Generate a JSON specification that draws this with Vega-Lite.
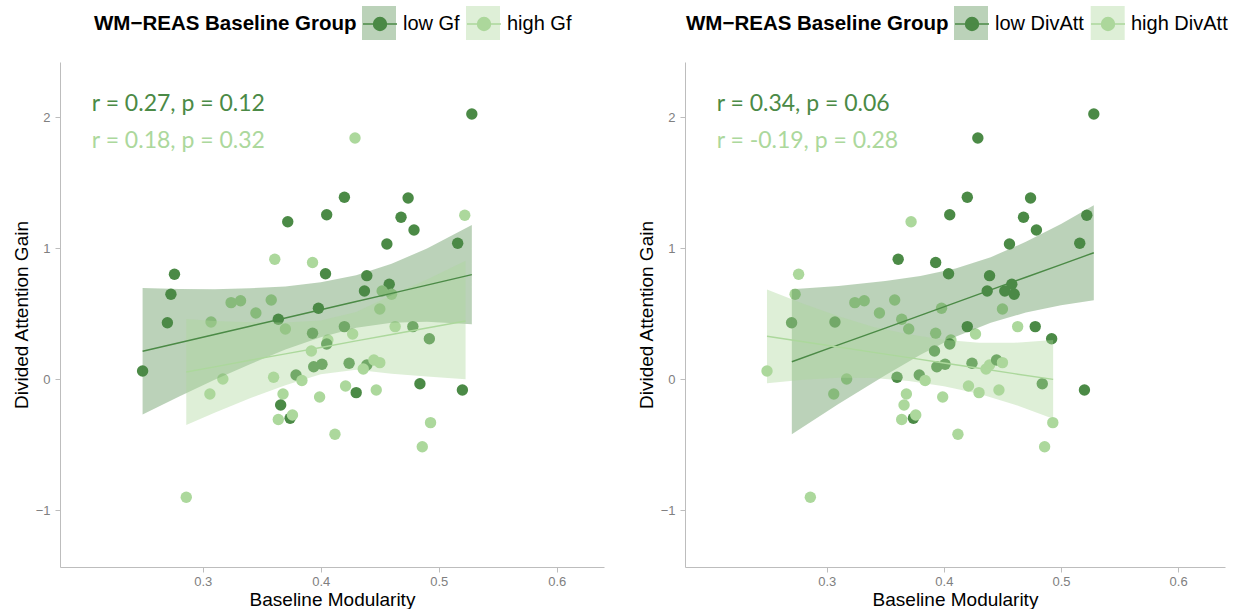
{
  "$schema": "https://vega.github.io/schema/vega-lite/v6.json",
  "padding": {"left": 12, "top": 6, "right": 0, "bottom": 0},
  "background": "white",
  "datasets": {
    "pts": [
      {"bm":0.528,"dag":2.025,"gf":"low Gf","divatt":"low DivAtt"},
      {"bm":0.429,"dag":1.842,"gf":"high Gf","divatt":"low DivAtt"},
      {"bm":0.420,"dag":1.389,"gf":"low Gf","divatt":"low DivAtt"},
      {"bm":0.474,"dag":1.384,"gf":"low Gf","divatt":"low DivAtt"},
      {"bm":0.405,"dag":1.256,"gf":"low Gf","divatt":"low DivAtt"},
      {"bm":0.468,"dag":1.237,"gf":"low Gf","divatt":"low DivAtt"},
      {"bm":0.522,"dag":1.252,"gf":"high Gf","divatt":"low DivAtt"},
      {"bm":0.479,"dag":1.140,"gf":"low Gf","divatt":"low DivAtt"},
      {"bm":0.456,"dag":1.033,"gf":"low Gf","divatt":"low DivAtt"},
      {"bm":0.516,"dag":1.038,"gf":"low Gf","divatt":"low DivAtt"},
      {"bm":0.372,"dag":1.203,"gf":"low Gf","divatt":"high DivAtt"},
      {"bm":0.361,"dag":0.916,"gf":"high Gf","divatt":"low DivAtt"},
      {"bm":0.393,"dag":0.892,"gf":"high Gf","divatt":"low DivAtt"},
      {"bm":0.276,"dag":0.802,"gf":"low Gf","divatt":"high DivAtt"},
      {"bm":0.273,"dag":0.649,"gf":"low Gf","divatt":"high DivAtt"},
      {"bm":0.270,"dag":0.432,"gf":"low Gf","divatt":"low DivAtt"},
      {"bm":0.404,"dag":0.806,"gf":"low Gf","divatt":"low DivAtt"},
      {"bm":0.439,"dag":0.791,"gf":"low Gf","divatt":"low DivAtt"},
      {"bm":0.437,"dag":0.674,"gf":"low Gf","divatt":"low DivAtt"},
      {"bm":0.458,"dag":0.725,"gf":"low Gf","divatt":"low DivAtt"},
      {"bm":0.452,"dag":0.674,"gf":"high Gf","divatt":"low DivAtt"},
      {"bm":0.460,"dag":0.649,"gf":"high Gf","divatt":"low DivAtt"},
      {"bm":0.324,"dag":0.585,"gf":"high Gf","divatt":"high DivAtt"},
      {"bm":0.332,"dag":0.600,"gf":"high Gf","divatt":"high DivAtt"},
      {"bm":0.358,"dag":0.605,"gf":"high Gf","divatt":"high DivAtt"},
      {"bm":0.345,"dag":0.506,"gf":"high Gf","divatt":"high DivAtt"},
      {"bm":0.307,"dag":0.437,"gf":"high Gf","divatt":"low DivAtt"},
      {"bm":0.364,"dag":0.458,"gf":"low Gf","divatt":"high DivAtt"},
      {"bm":0.370,"dag":0.384,"gf":"high Gf","divatt":"high DivAtt"},
      {"bm":0.398,"dag":0.542,"gf":"low Gf","divatt":"high DivAtt"},
      {"bm":0.450,"dag":0.537,"gf":"high Gf","divatt":"high DivAtt"},
      {"bm":0.393,"dag":0.351,"gf":"low Gf","divatt":"high DivAtt"},
      {"bm":0.420,"dag":0.402,"gf":"low Gf","divatt":"low DivAtt"},
      {"bm":0.427,"dag":0.346,"gf":"high Gf","divatt":"high DivAtt"},
      {"bm":0.463,"dag":0.402,"gf":"high Gf","divatt":"high DivAtt"},
      {"bm":0.478,"dag":0.402,"gf":"low Gf","divatt":"low DivAtt"},
      {"bm":0.492,"dag":0.309,"gf":"low Gf","divatt":"low DivAtt"},
      {"bm":0.406,"dag":0.300,"gf":"high Gf","divatt":"high DivAtt"},
      {"bm":0.405,"dag":0.269,"gf":"low Gf","divatt":"low DivAtt"},
      {"bm":0.392,"dag":0.216,"gf":"high Gf","divatt":"low DivAtt"},
      {"bm":0.394,"dag":0.096,"gf":"low Gf","divatt":"low DivAtt"},
      {"bm":0.401,"dag":0.115,"gf":"low Gf","divatt":"low DivAtt"},
      {"bm":0.424,"dag":0.122,"gf":"low Gf","divatt":"low DivAtt"},
      {"bm":0.439,"dag":0.109,"gf":"low Gf","divatt":"high DivAtt"},
      {"bm":0.436,"dag":0.079,"gf":"high Gf","divatt":"high DivAtt"},
      {"bm":0.445,"dag":0.147,"gf":"high Gf","divatt":"low DivAtt"},
      {"bm":0.450,"dag":0.127,"gf":"high Gf","divatt":"high DivAtt"},
      {"bm":0.249,"dag":0.063,"gf":"low Gf","divatt":"high DivAtt"},
      {"bm":0.317,"dag":0.002,"gf":"high Gf","divatt":"high DivAtt"},
      {"bm":0.360,"dag":0.015,"gf":"high Gf","divatt":"low DivAtt"},
      {"bm":0.379,"dag":0.033,"gf":"low Gf","divatt":"low DivAtt"},
      {"bm":0.384,"dag":-0.009,"gf":"high Gf","divatt":"high DivAtt"},
      {"bm":0.306,"dag":-0.112,"gf":"high Gf","divatt":"high DivAtt"},
      {"bm":0.368,"dag":-0.112,"gf":"high Gf","divatt":"high DivAtt"},
      {"bm":0.399,"dag":-0.135,"gf":"high Gf","divatt":"high DivAtt"},
      {"bm":0.366,"dag":-0.196,"gf":"low Gf","divatt":"high DivAtt"},
      {"bm":0.364,"dag":-0.307,"gf":"high Gf","divatt":"high DivAtt"},
      {"bm":0.374,"dag":-0.298,"gf":"low Gf","divatt":"low DivAtt"},
      {"bm":0.376,"dag":-0.273,"gf":"high Gf","divatt":"high DivAtt"},
      {"bm":0.421,"dag":-0.051,"gf":"high Gf","divatt":"high DivAtt"},
      {"bm":0.430,"dag":-0.102,"gf":"low Gf","divatt":"high DivAtt"},
      {"bm":0.447,"dag":-0.082,"gf":"high Gf","divatt":"high DivAtt"},
      {"bm":0.484,"dag":-0.034,"gf":"low Gf","divatt":"low DivAtt"},
      {"bm":0.520,"dag":-0.082,"gf":"low Gf","divatt":"low DivAtt"},
      {"bm":0.493,"dag":-0.331,"gf":"high Gf","divatt":"high DivAtt"},
      {"bm":0.412,"dag":-0.420,"gf":"high Gf","divatt":"high DivAtt"},
      {"bm":0.486,"dag":-0.515,"gf":"high Gf","divatt":"high DivAtt"},
      {"bm":0.286,"dag":-0.901,"gf":"high Gf","divatt":"high DivAtt"}
    ],
    "bands": [
      {"panel":"Gf","grp":"low Gf","bm":0.249,"lo":-0.269,"hi":0.697,"fit":0.214},
      {"panel":"Gf","grp":"low Gf","bm":0.280,"lo":-0.131,"hi":0.689,"fit":0.279},
      {"panel":"Gf","grp":"low Gf","bm":0.310,"lo":-0.003,"hi":0.687,"fit":0.342},
      {"panel":"Gf","grp":"low Gf","bm":0.340,"lo":0.115,"hi":0.695,"fit":0.405},
      {"panel":"Gf","grp":"low Gf","bm":0.370,"lo":0.228,"hi":0.708,"fit":0.468},
      {"panel":"Gf","grp":"low Gf","bm":0.400,"lo":0.321,"hi":0.741,"fit":0.531},
      {"panel":"Gf","grp":"low Gf","bm":0.430,"lo":0.394,"hi":0.794,"fit":0.594},
      {"panel":"Gf","grp":"low Gf","bm":0.460,"lo":0.431,"hi":0.881,"fit":0.656},
      {"panel":"Gf","grp":"low Gf","bm":0.490,"lo":0.439,"hi":0.999,"fit":0.719},
      {"panel":"Gf","grp":"low Gf","bm":0.528,"lo":0.421,"hi":1.177,"fit":0.799},
      {"panel":"Gf","grp":"high Gf","bm":0.286,"lo":-0.349,"hi":0.461,"fit":0.056},
      {"panel":"Gf","grp":"high Gf","bm":0.310,"lo":-0.255,"hi":0.445,"fit":0.095},
      {"panel":"Gf","grp":"high Gf","bm":0.340,"lo":-0.145,"hi":0.435,"fit":0.145},
      {"panel":"Gf","grp":"high Gf","bm":0.370,"lo":-0.046,"hi":0.434,"fit":0.194},
      {"panel":"Gf","grp":"high Gf","bm":0.400,"lo":0.038,"hi":0.448,"fit":0.243},
      {"panel":"Gf","grp":"high Gf","bm":0.430,"lo":0.073,"hi":0.513,"fit":0.293},
      {"panel":"Gf","grp":"high Gf","bm":0.460,"lo":0.042,"hi":0.642,"fit":0.342},
      {"panel":"Gf","grp":"high Gf","bm":0.490,"lo":0.021,"hi":0.761,"fit":0.391},
      {"panel":"Gf","grp":"high Gf","bm":0.5227,"lo":0.0,"hi":0.905,"fit":0.445},
      {"panel":"DivAtt","grp":"low DivAtt","bm":0.2702,"lo":-0.419,"hi":0.687,"fit":0.134},
      {"panel":"DivAtt","grp":"low DivAtt","bm":0.310,"lo":-0.188,"hi":0.712,"fit":0.262},
      {"panel":"DivAtt","grp":"low DivAtt","bm":0.350,"lo":0.031,"hi":0.751,"fit":0.391},
      {"panel":"DivAtt","grp":"low DivAtt","bm":0.380,"lo":0.188,"hi":0.788,"fit":0.488},
      {"panel":"DivAtt","grp":"low DivAtt","bm":0.410,"lo":0.325,"hi":0.845,"fit":0.585},
      {"panel":"DivAtt","grp":"low DivAtt","bm":0.440,"lo":0.432,"hi":0.932,"fit":0.682},
      {"panel":"DivAtt","grp":"low DivAtt","bm":0.470,"lo":0.509,"hi":1.049,"fit":0.779},
      {"panel":"DivAtt","grp":"low DivAtt","bm":0.500,"lo":0.565,"hi":1.185,"fit":0.875},
      {"panel":"DivAtt","grp":"low DivAtt","bm":0.528,"lo":0.603,"hi":1.329,"fit":0.966},
      {"panel":"DivAtt","grp":"high DivAtt","bm":0.249,"lo":-0.030,"hi":0.686,"fit":0.328},
      {"panel":"DivAtt","grp":"high DivAtt","bm":0.280,"lo":-0.004,"hi":0.576,"fit":0.286},
      {"panel":"DivAtt","grp":"high DivAtt","bm":0.310,"lo":0.011,"hi":0.481,"fit":0.246},
      {"panel":"DivAtt","grp":"high DivAtt","bm":0.340,"lo":0.010,"hi":0.400,"fit":0.205},
      {"panel":"DivAtt","grp":"high DivAtt","bm":0.370,"lo":-0.013,"hi":0.343,"fit":0.165},
      {"panel":"DivAtt","grp":"high DivAtt","bm":0.400,"lo":-0.054,"hi":0.302,"fit":0.124},
      {"panel":"DivAtt","grp":"high DivAtt","bm":0.430,"lo":-0.111,"hi":0.279,"fit":0.084},
      {"panel":"DivAtt","grp":"high DivAtt","bm":0.460,"lo":-0.192,"hi":0.278,"fit":0.043},
      {"panel":"DivAtt","grp":"high DivAtt","bm":0.4933,"lo":-0.301,"hi":0.299,"fit":-0.001}
    ],
    "notes": [
      {"panel":"Gf","grp":"low","label":"r = 0.27, p = 0.12"},
      {"panel":"Gf","grp":"high","label":"r = 0.18, p = 0.32"},
      {"panel":"DivAtt","grp":"low","label":"r = 0.34, p = 0.06"},
      {"panel":"DivAtt","grp":"high","label":"r = -0.19, p = 0.28"}
    ]
  },
  "hconcat": [
    {
      "width": 544,
      "height": 505,
      "layer": [
        {
          "data": {"name": "pts"},
          "mark": {"type": "circle", "size": 130, "opacity": 1},
          "encoding": {
            "x": {"field": "bm", "type": "quantitative", "scale": {"domain": [0.179, 0.64], "nice": false, "zero": false}, "axis": {"values": [0.3, 0.4, 0.5, 0.6], "format": ".1f", "title": "Baseline Modularity"}},
            "y": {"field": "dag", "type": "quantitative", "scale": {"domain": [-1.433, 2.422], "nice": false, "zero": false}, "axis": {"values": [-1, 0, 1, 2], "format": "d", "title": "Divided Attention Gain"}},
            "color": {"field": "gf", "type": "nominal", "scale": {"domain": ["low Gf", "high Gf"], "range": ["#4b8a46", "#acd89c"]},
              "legend": {"title": "WM−REAS Baseline Group", "orient": "none", "legendX": 34, "legendY": -56, "symbolType": "M-1,0H1M0.38,0A0.38,0.38,0,1,1,-0.38,0A0.38,0.38,0,1,1,0.38,0Z", "symbolOpacity": 1, "symbolStrokeWidth": 1.5}}
          }
        },
        {
          "data": {"name": "bands"},
          "transform": [{"filter": "datum.panel === 'Gf'"}],
          "mark": {"type": "area", "opacity": 1},
          "encoding": {
            "x": {"field": "bm", "type": "quantitative"},
            "y": {"field": "lo", "type": "quantitative"},
            "y2": {"field": "hi"},
            "fill": {"field": "grp", "type": "nominal", "scale": {"domain": ["high Gf", "low Gf"], "range": ["rgba(172,216,156,0.4)", "rgba(75,138,70,0.38)"]},
              "legend": {"title": null, "values": ["low Gf", "high Gf"], "labelExpr": "''", "orient": "none", "legendX": 302, "legendY": -56, "columnPadding": 65, "symbolType": "square", "symbolOpacity": 1, "symbolStrokeWidth": 0, "symbolStrokeColor": "transparent"}}
          }
        },
        {
          "data": {"name": "bands"},
          "transform": [{"filter": "datum.panel === 'Gf'"}],
          "mark": {"type": "line", "strokeWidth": 1.4},
          "encoding": {
            "x": {"field": "bm", "type": "quantitative"},
            "y": {"field": "fit", "type": "quantitative"},
            "stroke": {"field": "grp", "type": "nominal", "scale": {"domain": ["low Gf", "high Gf"], "range": ["#4b8a46", "#acd89c"]},
              "legend": {"title": "WM−REAS Baseline Group", "orient": "none", "legendX": 34, "legendY": -56, "symbolType": "M-1,0H1M0.38,0A0.38,0.38,0,1,1,-0.38,0A0.38,0.38,0,1,1,0.38,0Z", "symbolOpacity": 1, "symbolStrokeWidth": 1.5}}
          }
        },
        {
          "data": {"name": "notes"},
          "transform": [{"filter": "datum.panel === 'Gf' && datum.grp === 'low'"}],
          "mark": {"type": "text", "align": "left", "baseline": "middle", "font": "Lato", "fontSize": 23, "color": "#4b8a46"},
          "encoding": {"x": {"datum": 0.206, "type": "quantitative"}, "y": {"datum": 2.10, "type": "quantitative"}, "text": {"field": "label"}}
        },
        {
          "data": {"name": "notes"},
          "transform": [{"filter": "datum.panel === 'Gf' && datum.grp === 'high'"}],
          "mark": {"type": "text", "align": "left", "baseline": "middle", "font": "Lato", "fontSize": 23, "color": "#acd89c"},
          "encoding": {"x": {"datum": 0.206, "type": "quantitative"}, "y": {"datum": 1.82, "type": "quantitative"}, "text": {"field": "label"}}
        }
      ]
    },
    {
      "width": 540,
      "height": 505,
      "layer": [
        {
          "data": {"name": "pts"},
          "mark": {"type": "circle", "size": 130, "opacity": 1},
          "encoding": {
            "x": {"field": "bm", "type": "quantitative", "scale": {"domain": [0.179, 0.64], "nice": false, "zero": false}, "axis": {"values": [0.3, 0.4, 0.5, 0.6], "format": ".1f", "title": "Baseline Modularity"}},
            "y": {"field": "dag", "type": "quantitative", "scale": {"domain": [-1.433, 2.422], "nice": false, "zero": false}, "axis": {"values": [-1, 0, 1, 2], "format": "d", "title": "Divided Attention Gain"}},
            "color": {"field": "divatt", "type": "nominal", "scale": {"domain": ["low DivAtt", "high DivAtt"], "range": ["#4b8a46", "#acd89c"]},
              "legend": {"title": "WM−REAS Baseline Group", "orient": "none", "legendX": 1, "legendY": -56, "symbolType": "M-1,0H1M0.38,0A0.38,0.38,0,1,1,-0.38,0A0.38,0.38,0,1,1,0.38,0Z", "symbolOpacity": 1, "symbolStrokeWidth": 1.5}}
          }
        },
        {
          "data": {"name": "bands"},
          "transform": [{"filter": "datum.panel === 'DivAtt'"}],
          "mark": {"type": "area", "opacity": 1},
          "encoding": {
            "x": {"field": "bm", "type": "quantitative"},
            "y": {"field": "lo", "type": "quantitative"},
            "y2": {"field": "hi"},
            "fill": {"field": "grp", "type": "nominal", "scale": {"domain": ["high DivAtt", "low DivAtt"], "range": ["rgba(172,216,156,0.4)", "rgba(75,138,70,0.38)"]},
              "legend": {"title": null, "values": ["low DivAtt", "high DivAtt"], "labelExpr": "''", "orient": "none", "legendX": 269, "legendY": -56, "columnPadding": 97.7, "symbolType": "square", "symbolOpacity": 1, "symbolStrokeWidth": 0, "symbolStrokeColor": "transparent"}}
          }
        },
        {
          "data": {"name": "bands"},
          "transform": [{"filter": "datum.panel === 'DivAtt'"}],
          "mark": {"type": "line", "strokeWidth": 1.4},
          "encoding": {
            "x": {"field": "bm", "type": "quantitative"},
            "y": {"field": "fit", "type": "quantitative"},
            "stroke": {"field": "grp", "type": "nominal", "scale": {"domain": ["low DivAtt", "high DivAtt"], "range": ["#4b8a46", "#acd89c"]},
              "legend": {"title": "WM−REAS Baseline Group", "orient": "none", "legendX": 1, "legendY": -56, "symbolType": "M-1,0H1M0.38,0A0.38,0.38,0,1,1,-0.38,0A0.38,0.38,0,1,1,0.38,0Z", "symbolOpacity": 1, "symbolStrokeWidth": 1.5}}
          }
        },
        {
          "data": {"name": "notes"},
          "transform": [{"filter": "datum.panel === 'DivAtt' && datum.grp === 'low'"}],
          "mark": {"type": "text", "align": "left", "baseline": "middle", "font": "Lato", "fontSize": 23, "color": "#4b8a46"},
          "encoding": {"x": {"datum": 0.206, "type": "quantitative"}, "y": {"datum": 2.10, "type": "quantitative"}, "text": {"field": "label"}}
        },
        {
          "data": {"name": "notes"},
          "transform": [{"filter": "datum.panel === 'DivAtt' && datum.grp === 'high'"}],
          "mark": {"type": "text", "align": "left", "baseline": "middle", "font": "Lato", "fontSize": 23, "color": "#acd89c"},
          "encoding": {"x": {"datum": 0.206, "type": "quantitative"}, "y": {"datum": 1.82, "type": "quantitative"}, "text": {"field": "label"}}
        }
      ]
    }
  ],
  "spacing": 33,
  "resolve": {
    "scale": {"color": "independent", "fill": "independent", "stroke": "independent"},
    "legend": {"color": "independent", "fill": "independent", "stroke": "independent"}
  },
  "config": {
    "view": {"stroke": null},
    "font": "Liberation Sans",
    "axis": {"domainColor": "#bdbdbd", "tickColor": "#bdbdbd", "tickSize": 5, "grid": false, "labelColor": "#808080", "labelFontSize": 13, "labelFont": "Liberation Sans", "titleFont": "Liberation Sans", "titleFontSize": 19, "titleFontWeight": "normal", "titleColor": "#000000"},
    "axisX": {"labelPadding": 3, "titlePadding": 2},
    "axisY": {"labelPadding": 5, "titlePadding": 4},
    "legend": {"direction": "horizontal", "titleOrient": "left", "titleAnchor": "end", "titleBaseline": "bottom", "titleFontSize": 20.5, "titleFont": "Liberation Sans", "titleFontWeight": "bold", "titleColor": "#000000", "titleLimit": 400, "labelLimit": 300, "labelFontSize": 20, "labelFont": "Liberation Sans", "labelColor": "#000000", "symbolSize": 1156, "labelOffset": 5, "columnPadding": 4, "titlePadding": 5, "padding": 0}
  }
}
